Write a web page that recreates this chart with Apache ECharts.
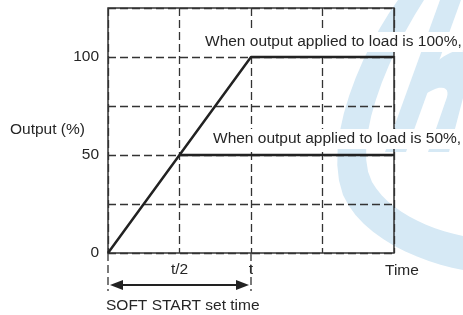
<!DOCTYPE html>
<html>
<head>
<meta charset="utf-8">
<script src="https://cdn.jsdelivr.net/npm/echarts@6/dist/echarts.min.js"></script>
<style>
  html, body { margin: 0; padding: 0; background: #fff; }
  #chart { width: 463px; height: 315px; }
</style>
</head>
<body>
<div id="chart"></div>
<script>
// output curves (time in quarters of the plotted span, t = 2)
const fullTime = [0, 2, 4];
const fullOutput = [0, 100, 100];
const halfTime = [1, 4];
const halfOutput = [50, 50];

const xTickLabels = { 1: 't/2', 2: 't' };
const yTickLabels = [0, 50, 100];

const softStartRange = [0, 2];

const labelFull = 'When output applied to load is 100%,';
const labelHalf = 'When output applied to load is 50%,';

const font = 'Liberation Sans, Arial, sans-serif';
const ink = '#262626';
const dash = [8, 4];
const wm = '#d6e9f5';

const chart = echarts.init(document.getElementById('chart'));

const toPairs = (xs, ys) => xs.map((x, i) => [x, ys[i]]);

// outline helper for the watermark: start point then cubic / straight segments
function outline(start, segs) {
  const pts = [start];
  let p = start;
  segs.forEach(s => {
    if (s.length === 1) { pts.push(s[0]); p = s[0]; return; }
    const [c1, c2, e] = s;
    for (let i = 1; i <= 12; i++) {
      const t = i / 12, u = 1 - t;
      pts.push([
        u * u * u * p[0] + 3 * u * u * t * c1[0] + 3 * u * t * t * c2[0] + t * t * t * e[0],
        u * u * u * p[1] + 3 * u * u * t * c1[1] + 3 * u * t * t * c2[1] + t * t * t * e[1]
      ]);
    }
    p = e;
  });
  return pts;
}

const option = {
  animation: false,
  backgroundColor: '#fff',
  grid: {
    left: 108, right: 69, top: 8, bottom: 62,
    show: true, borderColor: '#333', borderWidth: 1.5, z: 3
  },
  xAxis: {
    type: 'value', min: 0, max: 4, interval: 1,
    axisLine: { show: false },
    axisTick: { show: false },
    axisLabel: {
      margin: 9, color: ink, fontSize: 15.5, fontFamily: font,
      formatter: v => xTickLabels[v] || ''
    },
    splitLine: { show: true, lineStyle: { color: '#333', width: 1.3, type: dash } }
  },
  yAxis: {
    type: 'value', min: 0, max: 125, interval: 25,
    axisLine: { show: false },
    axisTick: { show: false },
    axisLabel: {
      margin: 9, color: ink, fontSize: 15.5, fontFamily: font,
      formatter: v => yTickLabels.includes(v) ? String(v) : ''
    },
    splitLine: { show: true, lineStyle: { color: '#333', width: 1.3, type: dash } }
  },
  series: [
    {
      type: 'line', data: toPairs(fullTime, fullOutput), symbol: 'none', z: 5,
      lineStyle: { color: '#222', width: 2.5 }
    },
    {
      type: 'line', data: toPairs(halfTime, halfOutput), symbol: 'none', z: 5,
      lineStyle: { color: '#222', width: 2.5 }
    }
  ]
};
chart.setOption(option);

// annotations placed from the axis scale
const px = (x, y) => chart.convertToPixel({ gridIndex: 0 }, [x, y]);
const [x0, yBase] = px(softStartRange[0], 0);
const [x1] = px(softStartRange[1], 0);
const p100 = px(0, 100), p50 = px(0, 50);
const arrowY = yBase + 32;

const swoosh = outline([398, 0], [
  [[362, 50], [322, 140], [343, 195]],
  [[362, 238], [420, 262], [463, 270]],
  [[463, 236]],
  [[425, 228], [388, 210], [372, 182]],
  [[352, 145], [385, 60], [424, 0]]
]);
const arch = outline([422, 78], [
  [[436, 58], [452, 50], [463, 50]],
  [[463, 98]],
  [[449, 152]],
  [[428, 152]],
  [[447, 97]],
  [[450, 86], [440, 82], [417, 100]]
]);

chart.setOption({
  graphic: [
    // watermark logo
    { type: 'polygon', z: -10, silent: true, shape: { points: swoosh }, style: { fill: wm } },
    { type: 'polygon', z: -10, silent: true,
      shape: { points: [[440, 0], [461, 0], [406, 152], [385, 152]] }, style: { fill: wm } },
    { type: 'polygon', z: -10, silent: true, shape: { points: arch }, style: { fill: wm } },
    // curve labels
    { type: 'text', z: 20, x: 204, y: p100[1] - 15,
      style: { text: labelFull, fill: ink, font: '15.5px ' + font, textVerticalAlign: 'middle',
        backgroundColor: '#fff', padding: [2, 1] } },
    { type: 'text', z: 20, x: 212, y: p50[1] - 16,
      style: { text: labelHalf, fill: ink, font: '15.5px ' + font, textVerticalAlign: 'middle',
        backgroundColor: '#fff', padding: [2, 1] } },
    { type: 'text', z: 20, x: 10, y: 130,
      style: { text: 'Output (%)', fill: ink, font: '15.5px ' + font, textVerticalAlign: 'middle' } },
    { type: 'text', z: 20, x: 385, y: yBase + 18,
      style: { text: 'Time', fill: ink, font: '15.5px ' + font, textVerticalAlign: 'middle' } },
    // soft start span
    { type: 'line', z: 20, shape: { x1: x0, y1: yBase, x2: x0, y2: yBase + 38 },
      style: { stroke: '#333', lineWidth: 1.3, lineDash: dash } },
    { type: 'line', z: 20, shape: { x1: x1, y1: yBase, x2: x1, y2: yBase + 38 },
      style: { stroke: '#333', lineWidth: 1.3, lineDash: dash } },
    { type: 'line', z: 20, shape: { x1: x0 + 10, y1: arrowY, x2: x1 - 10, y2: arrowY },
      style: { stroke: '#222', lineWidth: 2 } },
    { type: 'polygon', z: 20, shape: { points: [[x0 + 2, arrowY], [x0 + 15, arrowY - 5], [x0 + 15, arrowY + 5]] },
      style: { fill: '#222' } },
    { type: 'polygon', z: 20, shape: { points: [[x1 - 2, arrowY], [x1 - 15, arrowY - 5], [x1 - 15, arrowY + 5]] },
      style: { fill: '#222' } },
    { type: 'text', z: 20, x: 106, y: yBase + 53,
      style: { text: 'SOFT START set time', fill: ink, font: '15.5px ' + font, textVerticalAlign: 'middle' } }
  ]
});
</script>
</body>
</html>
